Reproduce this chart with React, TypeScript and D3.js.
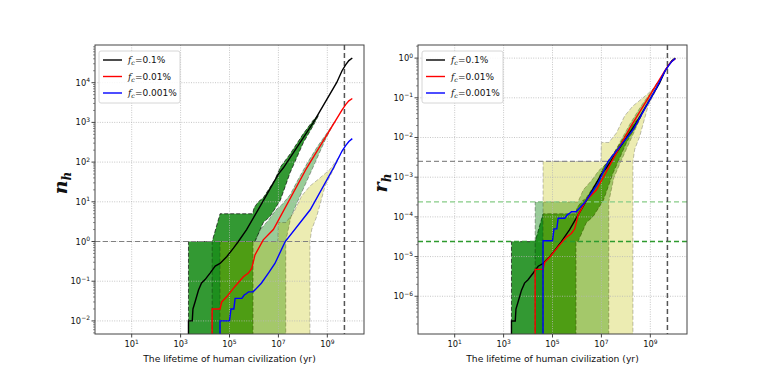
import React from 'react';
import * as d3 from 'd3';

const W = 763;
const H = 382;

// "zero" on a log axis: falls below the frame (also after normalising) and gets clipped
const OFF = 1e-9;

const seriesNames = ['0.1%', '0.01%', '0.001%'];
const lineColors = ['#000000', '#ff0000', '#0000ff'];
const bandColors = ['#008000', '#008000', '#bfbf00'];
const bandAlphas = [0.8, 0.4, 0.3];
// final value of each run, the right panel is the left one divided by it
const totals = [4.2e4, 4.2e3, 4.0e2];
const refColors = ['#2e9a2e', '#86cc86', '#8c8c8c'];
const sunLimit = 5e9;

// lines (left panel units, n_h)
const blackX = [2.1e3, 2.1e3, 3.0e3, 3.2e3, 3.9e3, 5.4e3, 7.2e3, 1.0e4, 1.6e4, 2.6e4, 4.1e4, 7.8e4, 1.45e5, 2.3e5, 5.0e5, 1.8e6, 1.0e7, 1.6e7, 2.7e8, 2.4e9, 4.0e9, 5.6e9, 7.6e9, 1.05e10];
const blackY = [OFF, 0.01, 0.01, 0.02, 0.03, 0.06, 0.09, 0.11, 0.16, 0.24, 0.28, 0.42, 0.68, 1.0, 2.0, 7.8, 50, 72, 1000, 1.0e4, 2.0e4, 2.8e4, 3.6e4, 4.2e4];
const redX = [1.95e4, 1.95e4, 4.1e4, 4.8e4, 7.8e4, 1.7e5, 3.7e5, 5.9e5, 8.1e5, 1.1e6, 2.4e6, 6.2e6, 1.45e8, 3.9e9, 5.6e9, 7.6e9, 1.05e10];
const redY = [OFF, 0.02, 0.02, 0.03, 0.041, 0.075, 0.13, 0.16, 0.21, 0.46, 1.1, 2.0, 72, 2.0e3, 2.8e3, 3.5e3, 4.0e3];
const blueX = [4.1e4, 4.1e4, 1.0e5, 1.15e5, 1.5e5, 1.7e5, 3.2e5, 4.0e5, 5.0e5, 6.0e5, 9.3e5, 2.0e6, 3.9e6, 7.2e6, 1.9e7, 2.0e8, 1.8e9, 4.0e9, 5.6e9, 7.6e9, 1.05e10];
const blueY = [OFF, 0.01, 0.01, 0.02, 0.02, 0.037, 0.037, 0.045, 0.049, 0.054, 0.054, 0.089, 0.16, 0.28, 1.0, 6.3, 72, 190, 260, 330, 390];

// spread bands: upper and lower envelopes
const s1UpX = [2.1e3, 2.1e3, 1.95e4, 4.1e4, 8.9e5, 1.0e6, 1.5e6, 2.4e6, 3.9e6, 7.2e6, 1.2e7, 3.0e7, 1.0e8, 2.7e8, 4.5e8];
const s1UpY = [OFF, 1, 1, 5, 5, 7, 10, 12.6, 20, 36, 75, 160, 500, 1150, 1550];
const s1LoX = [2.1e3, 9.1e5, 9.1e5, 1.1e6, 2.4e6, 4.6e6, 1.2e7, 3.0e7, 1.05e8, 2.7e8, 4.5e8];
const s1LoY = [OFF, OFF, 1, 1, 3, 4.3, 11, 54, 310, 850, 1550];
const s2UpX = [1.95e4, 1.95e4, 1.1e6, 1.8e6, 4.0e6, 8.0e6, 1.35e7, 3.0e7, 6.3e7, 1.6e8, 4.0e8, 1.0e9, 2.0e9];
const s2UpY = [OFF, 1, 1, 2, 3.5, 6.3, 8.3, 15, 36, 100, 250, 560, 1050];
const s2LoX = [1.95e4, 2.0e7, 2.0e7, 3.2e7, 5.6e7, 1.0e8, 2.5e8, 8.0e8, 2.0e9];
const s2LoY = [OFF, OFF, 1, 4, 9, 20, 70, 350, 1050];
const s3UpX = [4.1e4, 4.1e4, 9.5e6, 1.0e7, 2.0e7, 4.1e7, 8.9e7, 1.95e8, 5.0e8, 1.3e9, 2.4e9, 3.2e9];
const s3UpY = [OFF, 1, 1, 3, 3, 5.2, 14, 25, 40, 66, 112, 145];
const s3LoX = [4.1e4, 1.95e8, 1.95e8, 2.3e8, 3.7e8, 8.1e8, 1.8e9, 3.2e9];
const s3LoY = [OFF, OFF, 1, 2, 4.3, 25, 66, 145];

const xTickExp = [1, 3, 5, 7, 9];
const yTickExpLeft = [-2, -1, 0, 1, 2, 3, 4];
const yTickExpRight = [-6, -5, -4, -3, -2, -1, 0];

const lines = [[blackX, blackY], [redX, redY], [blueX, blueY]];
const bands = [
  [s1UpX, s1UpY, s1LoX, s1LoY],
  [s2UpX, s2UpY, s2LoX, s2LoY],
  [s3UpX, s3UpY, s3LoX, s3LoY],
];

const Y0 = 45;
const Y1 = 334;
const xDomain = [0.316, 3.16e10];

const sup = (e: number) => (e < 0 ? '\u2212' + Math.abs(e) : String(e));

function Panel({ x0, x1, yDomain, yTickExp, norm, ylabel, id }: any) {
  const xs = d3.scaleLog().domain(xDomain).range([x0, x1]);
  const ys = d3.scaleLog().domain(yDomain).range([Y1, Y0]);
  const path = d3.line<number[]>().x(d => xs(d[0])).y(d => ys(d[1]));
  const k = (i: number) => (norm ? totals[i] : 1);
  const pts = (xa: number[], ya: number[], i: number) => xa.map((x, j) => [x, ya[j] / k(i)]);

  const minor: number[] = [];
  const lo = Math.floor(Math.log10(yDomain[0]));
  const hi = Math.ceil(Math.log10(yDomain[1]));
  for (let e = lo; e <= hi; e++) {
    for (let m = 2; m <= 9; m++) {
      const v = m * Math.pow(10, e);
      if (v >= yDomain[0] && v <= yDomain[1]) minor.push(v);
    }
  }

  const refs = norm ? totals.map(t => 1 / t) : [1];
  const refCols = norm ? refColors : ['#808080'];
  const lx = x0 + 4;

  return (
    <g>
      <defs>
        <clipPath id={id}>
          <rect x={x0} y={Y0} width={x1 - x0} height={Y1 - Y0} />
        </clipPath>
      </defs>
      <g clipPath={`url(#${id})`}>
        {bands.map((b, i) => {
          const up = pts(b[0], b[1], i);
          const low = pts(b[2], b[3], i).reverse();
          return (
            <path key={i} d={path(up.concat(low)) + 'Z'} fill={bandColors[i]} fillOpacity={bandAlphas[i]}
              stroke="#000" strokeOpacity={bandAlphas[i] * 0.8} strokeWidth={1} strokeDasharray="4 2" />
          );
        })}
        {xTickExp.map(e => (
          <line key={'gx' + e} x1={xs(Math.pow(10, e))} x2={xs(Math.pow(10, e))} y1={Y0} y2={Y1}
            stroke="#b8b8b8" strokeWidth={0.8} strokeDasharray="1 1.4" />
        ))}
        {yTickExp.map((e: number) => (
          <line key={'gy' + e} x1={x0} x2={x1} y1={ys(Math.pow(10, e))} y2={ys(Math.pow(10, e))}
            stroke="#b8b8b8" strokeWidth={0.8} strokeDasharray="1 1.4" />
        ))}
        {refs.map((v, i) => (
          <line key={'r' + i} x1={x0} x2={x1} y1={ys(v)} y2={ys(v)} stroke={refCols[i]}
            strokeWidth={norm && i === 0 ? 1.5 : 1.2} strokeDasharray="5 3" />
        ))}
        <line x1={xs(sunLimit)} x2={xs(sunLimit)} y1={Y0} y2={Y1} stroke="#555" strokeWidth={1.5} strokeDasharray="5 3" />
        {lines.map((l, i) => (
          <path key={'l' + i} d={path(pts(l[0], l[1], i)) || ''} fill="none" stroke={lineColors[i]} strokeWidth={1.4} />
        ))}
      </g>
      <rect x={x0} y={Y0} width={x1 - x0} height={Y1 - Y0} fill="none" stroke="#444" strokeWidth={1} />
      {xTickExp.map(e => {
        const px = xs(Math.pow(10, e));
        return (
          <g key={'tx' + e}>
            <line x1={px} x2={px} y1={Y1} y2={Y1 + 3.5} stroke="#444" />
            <text x={px} y={Y1 + 13} textAnchor="middle" fontSize={8.3} fill="#111">
              10<tspan dy={-3.5} fontSize={6}>{sup(e)}</tspan>
            </text>
          </g>
        );
      })}
      {yTickExp.map((e: number) => {
        const py = ys(Math.pow(10, e));
        return (
          <g key={'ty' + e}>
            <line x1={x0 - 3.5} x2={x0} y1={py} y2={py} stroke="#444" />
            <text x={x0 - 5} y={py + 3} textAnchor="end" fontSize={8.3} fill="#111">
              10<tspan dy={-3.5} fontSize={6}>{sup(e)}</tspan>
            </text>
          </g>
        );
      })}
      {minor.map((v, j) => (
        <line key={'m' + j} x1={x0 - 2} x2={x0} y1={ys(v)} y2={ys(v)} stroke="#444" strokeWidth={0.6} />
      ))}
      <text x={(x0 + x1) / 2} y={362} textAnchor="middle" fontSize={9.2} fill="#111">
        The lifetime of human civilization (yr)
      </text>
      <text transform={`translate(${ylabel.x},183) rotate(-90)`} textAnchor="middle" fontSize={19}
        fontFamily="DejaVu Serif" fontStyle="italic" fontWeight="bold" fill="#111">
        {ylabel.t}<tspan dy={4} fontSize={12}>h</tspan>
      </text>
      <rect x={lx} y={51} width={81} height={52} rx={2} fill="#fff" fillOpacity={0.85} stroke="#cccccc" strokeWidth={0.8} />
      {seriesNames.map((s, i) => {
        const ry = 60 + i * 16.5;
        return (
          <g key={'lg' + i}>
            <line x1={lx + 4} x2={lx + 23} y1={ry} y2={ry} stroke={lineColors[i]} strokeWidth={1.4} />
            <text x={lx + 29} y={ry + 3.2} fontSize={9} fill="#111">
              <tspan fontFamily="DejaVu Serif" fontStyle="italic">f</tspan>
              <tspan fontFamily="DejaVu Serif" fontStyle="italic" fontSize={6.3} dy={2}>c</tspan>
              <tspan dy={-2}>={s}</tspan>
            </text>
          </g>
        );
      })}
    </g>
  );
}

export default function App() {
  return (
    <svg width={W} height={H} style={{ position: 'absolute', left: 0, top: 0, background: '#fff' }} fontFamily="DejaVu Sans">
      <Panel x0={95} x1={364} yDomain={[4.68e-3, 8.9e4]} yTickExp={yTickExpLeft} norm={false} ylabel={{ x: 67, t: 'n' }} id="clipL" />
      <Panel x0={418} x1={687} yDomain={[1.12e-7, 2.14]} yTickExp={yTickExpRight} norm={true} ylabel={{ x: 387, t: 'r' }} id="clipR" />
    </svg>
  );
}
